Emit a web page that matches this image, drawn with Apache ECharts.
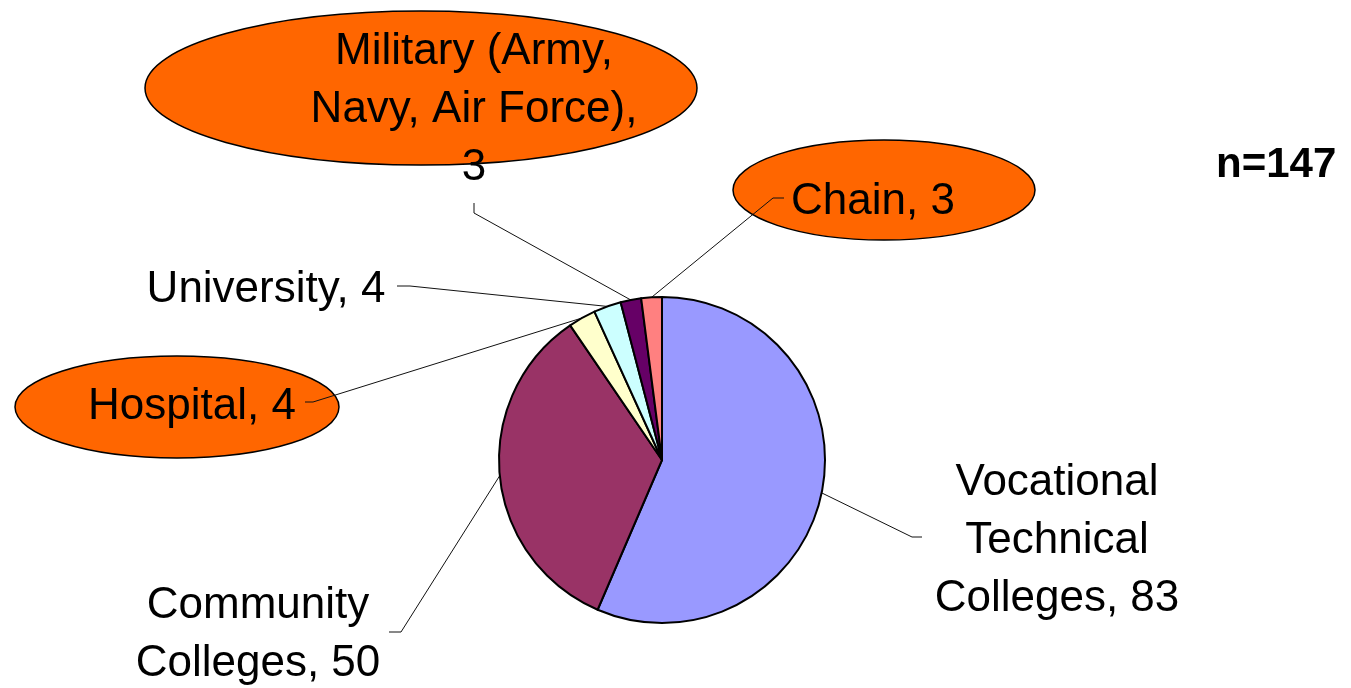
<!DOCTYPE html>
<html>
<head>
<meta charset="utf-8">
<script src="https://cdn.jsdelivr.net/npm/echarts@6/dist/echarts.min.js"></script>
<style>
  html, body { margin: 0; padding: 0; background: #fff; }
  #main { width: 1351px; height: 688px; }
</style>
</head>
<body>
<div id="main"></div>
<script>
// data
var names = ['Vocational\nTechnical\nColleges', 'Community\nColleges', 'Hospital', 'University', 'Military (Army,\nNavy, Air Force)', 'Chain']
var values = [83, 50, 4, 4, 3, 3]
var colors = ['#9999FF', '#993366', '#FFFFCC', '#CCFFFF', '#660066', '#FF8080']
var valueSep = [' ', ' ', ' ', ' ', '\n', ' ']
var total = 'n=147'

// where each label sits and how its leader line bends
var labelPos = [[1057, 541], [258, 635], [192, 407], [266, 290], [474, 110], [873, 202]]
var lineBend = [[[912, 537], [922, 537]], [[401, 632], [389, 632]], [[313, 402], [305, 402]],
    [[410, 286], [397, 286]], [[474, 213], [474, 203]], [[773, 198], [784, 198]]]

var font = '"Liberation Sans", Arial, sans-serif'

var chart = echarts.init(document.getElementById('main'))

var data = []
for (var i = 0; i < names.length; i++) {
    data.push({ name: names[i], value: values[i], itemStyle: { color: colors[i] } })
}

var option = {
    animation: false,
    backgroundColor: '#fff',
    graphic: [
        { type: 'ellipse', z: 0, shape: { cx: 421, cy: 88, rx: 276, ry: 77 }, style: { fill: '#FF6600', stroke: '#000', lineWidth: 1.5 } },
        { type: 'ellipse', z: 0, shape: { cx: 884, cy: 190, rx: 151, ry: 50 }, style: { fill: '#FF6600', stroke: '#000', lineWidth: 1.5 } },
        { type: 'ellipse', z: 0, shape: { cx: 177, cy: 407, rx: 162, ry: 51 }, style: { fill: '#FF6600', stroke: '#000', lineWidth: 1.5 } },
        { type: 'text', z: 5, left: 1216, top: 144, style: { text: total, font: 'bold 42px ' + font, fill: '#000' } }
    ],
    series: [{
        type: 'pie',
        z: 2,
        center: [662, 460],
        radius: 163,
        startAngle: 90,
        clockwise: true,
        data: data,
        itemStyle: { borderColor: '#000', borderWidth: 2 },
        emphasis: { disabled: true },
        label: {
            show: true,
            color: '#000',
            fontFamily: font,
            fontSize: 44,
            lineHeight: 58,
            formatter: function (p) {
                return p.name + ',' + valueSep[p.dataIndex] + p.value
            }
        },
        labelLine: { show: true, lineStyle: { color: '#111', width: 1 } },
        labelLayout: function (p) {
            var i = p.dataIndex
            var edge = p.labelLinePoints ? p.labelLinePoints[0] : lineBend[i][0]
            return {
                x: labelPos[i][0],
                y: labelPos[i][1],
                align: 'center',
                verticalAlign: 'middle',
                labelLinePoints: [edge, lineBend[i][0], lineBend[i][1]]
            }
        }
    }]
}

chart.setOption(option)
</script>
</body>
</html>
